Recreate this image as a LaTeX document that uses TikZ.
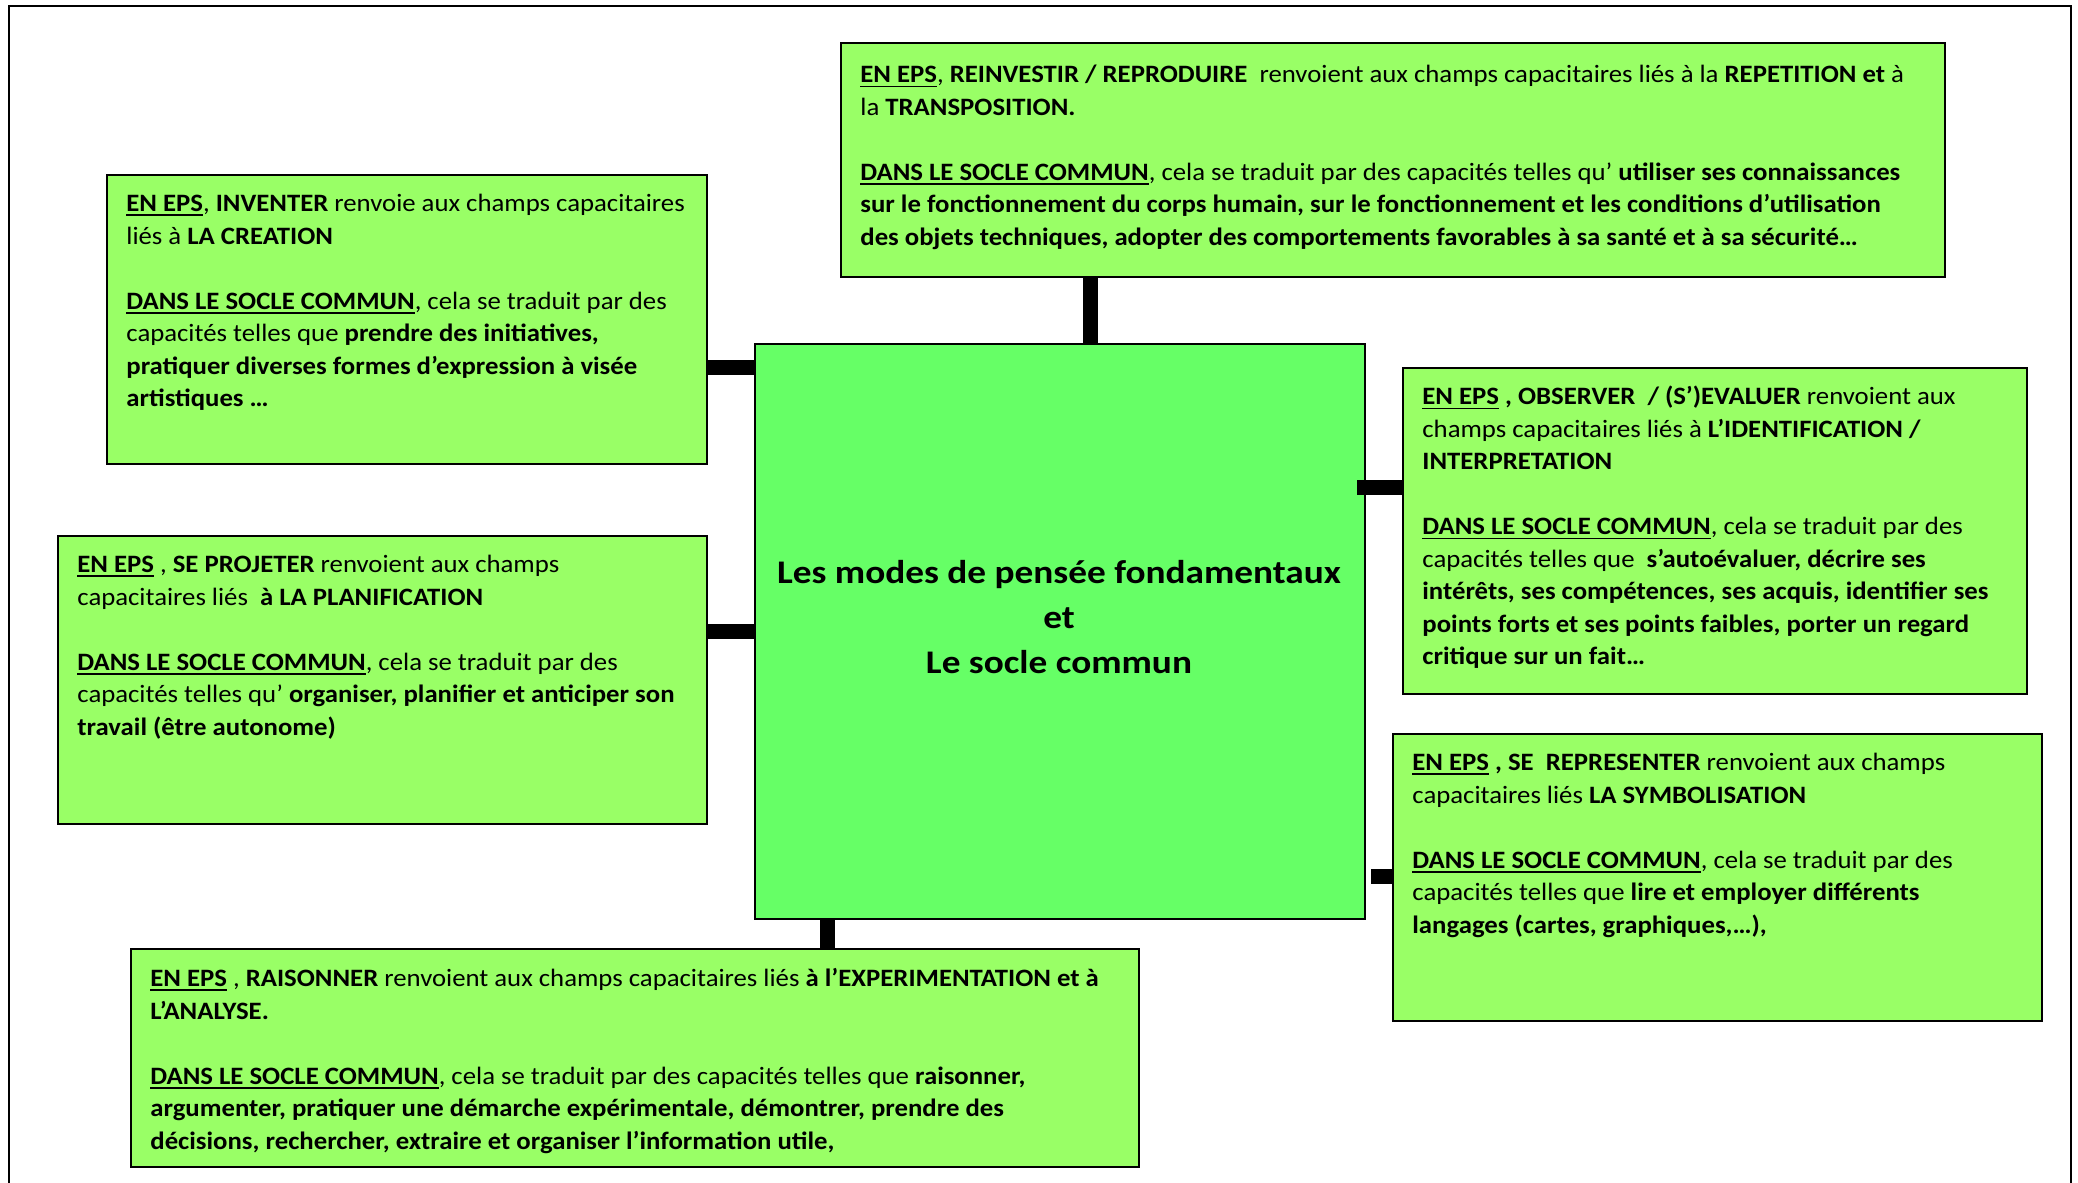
\documentclass[tikz,border=0pt]{standalone}
\usepackage{fontspec}
\setmainfont{Carlito}
\definecolor{boxgreen}{HTML}{99FF66}
\definecolor{centergreen}{HTML}{66FF66}
\newsavebox{\ulbbox}
\newcommand{\ulb}[1]{\sbox{\ulbbox}{\textbf{#1}}\rlap{\rule[-2.2pt]{\wd\ulbbox}{0.9pt}}\usebox{\ulbbox}}
\begin{document}
\begin{tikzpicture}[x=0.5pt,y=-0.5pt,
  box/.style={draw=black, line width=1pt, fill=boxgreen, anchor=north west, inner sep=0pt},
  txt/.style={anchor=north west, align=left, inner sep=0pt, font=\fontsize{12.5}{16.25}\selectfont\addfontfeatures{FakeStretch=1.07}},
  conn/.style={line width=7.5pt, black},
  frame/.style={line width=1.2pt, black}]
\useasboundingbox (0,0) rectangle (2078,1183);
\draw[frame] (9,1183) -- (9,6) -- (2071,6) -- (2071,1183);

% boxes
\node[box, minimum width=552pt, minimum height=117pt] (top) at (840,42) {};
\node[box, fill=centergreen, minimum width=305pt, minimum height=287.5pt] (center) at (754,343) {};
\node[box, minimum width=300pt, minimum height=144.5pt] (inv) at (106,174) {};
\node[box, minimum width=324.5pt, minimum height=144pt] (proj) at (57,535) {};
\node[box, minimum width=312pt, minimum height=163pt] (obs) at (1402,367) {};
\node[box, minimum width=324.5pt, minimum height=143.5pt] (rep) at (1392,733) {};
\node[box, minimum width=504pt, minimum height=109pt] (rais) at (130,948) {};

% connectors
\coordinate (cTop) at (1090,0);
\coordinate (cInv) at (0,367);
\coordinate (cProj) at (0,631);
\coordinate (cObs) at (0,487);
\coordinate (cRep) at (0,876);
\coordinate (cRais) at (827,0);
\draw[conn] (top.south -| cTop) -- (center.north -| cTop);
\draw[conn] (inv.east |- cInv) -- (center.west |- cInv);
\draw[conn] (proj.east |- cProj) -- (center.west |- cProj);
\draw[conn, shorten <=-4.5pt] (center.east |- cObs) -- (obs.west |- cObs);
\draw[conn, shorten <=2.5pt] (center.east |- cRep) -- (rep.west |- cRep);
\draw[conn] (center.south -| cRais) -- (rais.north -| cRais);

% texts
\node[txt] (topT) at ([xshift=10pt,yshift=-11.5pt]top.north west) {%
\ulb{EN EPS}, \textbf{REINVESTIR / REPRODUIRE}\ \ renvoient aux champs capacitaires liés à la \textbf{REPETITION et} à\\
la \textbf{TRANSPOSITION.}\\[16.25pt]
\ulb{DANS LE SOCLE COMMUN}, cela se traduit par des capacités telles qu’ \textbf{utiliser ses connaissances}\\
\textbf{sur le fonctionnement du corps humain, sur le fonctionnement et les conditions d’utilisation}\\
\textbf{des objets techniques, adopter des comportements favorables à sa santé et à sa sécurité…}};

\node[txt] (invT) at ([xshift=10pt,yshift=-10pt]inv.north west) {%
\ulb{EN EPS}, \textbf{INVENTER} renvoie aux champs capacitaires\\
liés à \textbf{LA CREATION}\\[16.25pt]
\ulb{DANS LE SOCLE COMMUN}, cela se traduit par des\\
capacités telles que \textbf{prendre des initiatives,}\\
\textbf{pratiquer diverses formes d’expression à visée}\\
\textbf{artistiques …}};

\node[txt] (projT) at ([xshift=10pt,yshift=-10pt]proj.north west) {%
\ulb{EN EPS} , \textbf{SE PROJETER} renvoient aux champs\\
capacitaires liés\ \ \textbf{à LA PLANIFICATION}\\[16.25pt]
\ulb{DANS LE SOCLE COMMUN}, cela se traduit par des\\
capacités telles qu’ \textbf{organiser, planifier et anticiper son}\\
\textbf{travail (être autonome)}};

\node[txt] (obsT) at ([xshift=10pt,yshift=-9.5pt]obs.north west) {%
\ulb{EN EPS} \textbf{, OBSERVER\ \ / (S’)EVALUER} renvoient aux\\
champs capacitaires liés à \textbf{L’IDENTIFICATION /}\\
\textbf{INTERPRETATION}\\[16.25pt]
\ulb{DANS LE SOCLE COMMUN}, cela se traduit par des\\
capacités telles que\ \ \textbf{s’autoévaluer, décrire ses}\\
\textbf{intérêts, ses compétences, ses acquis, identifier ses}\\
\textbf{points forts et ses points faibles, porter un regard}\\
\textbf{critique sur un fait…}};

\node[txt] (repT) at ([xshift=10pt,yshift=-10pt]rep.north west) {%
\ulb{EN EPS} \textbf{, SE\ \ REPRESENTER} renvoient aux champs\\
capacitaires liés \textbf{LA SYMBOLISATION}\\[16.25pt]
\ulb{DANS LE SOCLE COMMUN}, cela se traduit par des\\
capacités telles que \textbf{lire et employer différents}\\
\textbf{langages (cartes, graphiques,…),}};

\node[txt] (raisT) at ([xshift=10pt,yshift=-10pt]rais.north west) {%
\ulb{EN EPS} , \textbf{RAISONNER} renvoient aux champs capacitaires liés \textbf{à l’EXPERIMENTATION et à}\\
\textbf{L’ANALYSE.}\\[16.25pt]
\ulb{DANS LE SOCLE COMMUN}, cela se traduit par des capacités telles que \textbf{raisonner,}\\
\textbf{argumenter, pratiquer une démarche expérimentale, démontrer, prendre des}\\
\textbf{décisions, rechercher, extraire et organiser l’information utile,}};

\node[align=center, inner sep=0pt, font=\fontsize{16.5}{22.5}\selectfont\addfontfeatures{FakeStretch=1.13}\bfseries] (centerT) at (1059,617) {%
Les modes de pensée fondamentaux\\ et\\ Le socle commun};
\end{tikzpicture}
\end{document}
